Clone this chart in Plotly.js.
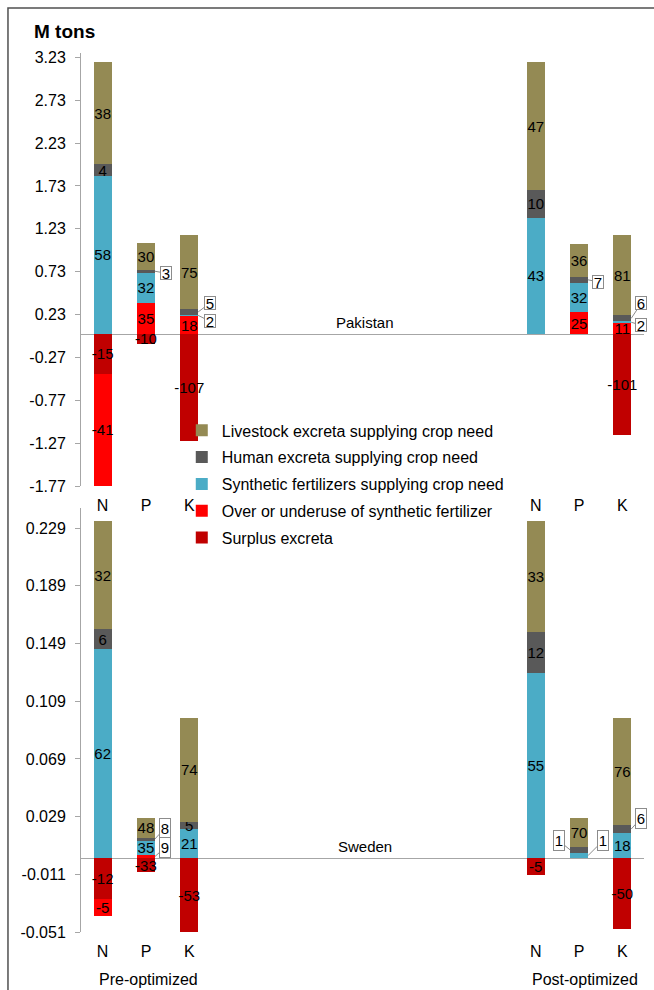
<!DOCTYPE html>
<html>
<head>
<meta charset="utf-8">
<script src="https://cdn.plot.ly/plotly-3.0.1.min.js"></script>
<style>html,body{margin:0;padding:0;background:#fff;}#chart{width:654px;height:990px;}</style>
</head>
<body>
<div id="chart"></div>
<script>
// ---------------- DATA ----------------
const groups = ["Pre-optimized", "Post-optimized"];
const nutrients = ["N", "P", "K"];
const seriesNames = [
  "Surplus excreta",
  "Over or underuse of synthetic fertilizer",
  "Synthetic fertilizers supplying crop need",
  "Human excreta supplying crop need",
  "Livestock excreta supplying crop need"
];
// values in M tons, order: Pre N, Pre P, Pre K, Post N, Post P, Post K
const pakSurplus   = [-0.46, -0.11, -1.24, null, null, -1.17];
const pakOver      = [-1.31, 0.37, 0.21, null, 0.26, 0.13];
const pakSynth     = [1.85, 0.35, 0.02, 1.36, 0.34, 0.02];
const pakHuman     = [0.13, 0.03, 0.06, 0.32, 0.07, 0.07];
const pakLivestock = [1.19, 0.31, 0.87, 1.49, 0.38, 0.94];
const pakSurplusLbl   = ["-15", "-10", "-107", "", "", "-101"];
const pakOverLbl      = ["-41", "35", "18", "", "25", "11"];
const pakSynthLbl     = ["58", "32", "2", "43", "32", "2"];
const pakHumanLbl     = ["4", "3", "5", "10", "7", "6"];
const pakLivestockLbl = ["38", "30", "75", "47", "36", "81"];

const sweSurplus   = [-0.028, -0.0093, -0.051, -0.0117, null, -0.0487];
const sweOver      = [-0.0117, 0.0025, null, null, null, null];
const sweSynth     = [0.145, 0.0098, 0.0205, 0.1287, 0.0038, 0.0175];
const sweHuman     = [0.014, 0.0022, 0.0049, 0.0281, 0.0042, 0.0058];
const sweLivestock = [0.0749, 0.0135, 0.0721, 0.0772, 0.0198, 0.074];
const sweSurplusLbl   = ["-12", "-33", "-53", "-5", "", "-50"];
const sweOverLbl      = ["-5", "9", "", "", "", ""];
const sweSynthLbl     = ["62", "35", "21", "55", "1", "18"];
const sweHumanLbl     = ["6", "8", "5", "12", "1", "6"];
const sweLivestockLbl = ["32", "48", "74", "33", "70", "76"];

const pakTickVals = [-1.77, -1.27, -0.77, -0.27, 0.23, 0.73, 1.23, 1.73, 2.23, 2.73, 3.23];
const sweTickVals = [-0.051, -0.011, 0.029, 0.069, 0.109, 0.149, 0.189, 0.229];
const countries = ["Pakistan", "Sweden"];

// ---------------- STYLE ----------------
const colors = ["#c00000", "#ff0000", "#4bacc6", "#595959", "#948a54"];
const FONT = 'Arial, "Liberation Sans", sans-serif';
const GROUP_GAP = 10;
const BAR_W = 0.41;
const xPos = [];
groups.forEach((g, gi) => nutrients.forEach((n, ni) => xPos.push(gi * GROUP_GAP + ni)));
const tickText = groups.flatMap(() => nutrients);

const panels = [
  { vals: [pakSurplus, pakOver, pakSynth, pakHuman, pakLivestock],
    lbls: [pakSurplusLbl, pakOverLbl, pakSynthLbl, pakHumanLbl, pakLivestockLbl],
    xa: "x", ya: "y", boxH: 12 },
  { vals: [sweSurplus, sweOver, sweSynth, sweHuman, sweLivestock],
    lbls: [sweSurplusLbl, sweOverLbl, sweSynthLbl, sweHumanLbl, sweLivestockLbl],
    xa: "x2", ya: "y2", boxH: 19 }
];

// callouts: panel, series index, category index, side (+1 right / -1 left), pixel offsets
const callouts = [
  { p: 0, s: 3, i: 1, side: 1, ax: 11, ay: 2 },
  { p: 0, s: 3, i: 2, side: 1, ax: 12, ay: -9 },
  { p: 0, s: 2, i: 2, side: 1, ax: 12, ay: 6 },
  { p: 0, s: 3, i: 4, side: 1, ax: 10, ay: 2 },
  { p: 0, s: 3, i: 5, side: 1, ax: 10, ay: -15 },
  { p: 0, s: 2, i: 5, side: 1, ax: 10, ay: 3 },
  { p: 1, s: 3, i: 1, side: 1, ax: 10, ay: -11 },
  { p: 1, s: 1, i: 1, side: 1, ax: 10, ay: -9 },
  { p: 1, s: 3, i: 4, side: -1, ax: -11, ay: -9 },
  { p: 1, s: 2, i: 4, side: 1, ax: 15, ay: -15 },
  { p: 1, s: 3, i: 5, side: 1, ax: 10, ay: -11 }
];
const isCallout = (p, s, i) => callouts.some(c => c.p === p && c.s === s && c.i === i);

const traces = [];
panels.forEach((pn, p) => {
  pn.vals.forEach((v, s) => {
    traces.push({
      type: "bar",
      name: seriesNames[s],
      legendgroup: "g" + s,
      legendrank: 1000 - s,
      showlegend: p === 0,
      x: xPos,
      y: v,
      xaxis: pn.xa,
      yaxis: pn.ya,
      width: BAR_W,
      marker: { color: colors[s], line: { width: 0 } },
      text: pn.lbls[s].map((t, i) => isCallout(p, s, i) ? "" : t),
      textposition: "inside",
      insidetextanchor: "middle",
      textangle: 0,
      insidetextfont: { family: FONT, size: 15, color: "#000" },
      hoverinfo: "skip",
      cliponaxis: false
    });
  });
});

// stacked centre of a positive segment
function segCenter(vals, s, i) {
  let base = 0;
  for (let k = 0; k < s; k++) { const vv = vals[k][i]; if (vv != null && vv > 0) base += vv; }
  return base + vals[s][i] / 2;
}

const annotations = [];
callouts.forEach(c => {
  const pn = panels[c.p];
  annotations.push({
    xref: pn.xa, yref: pn.ya,
    x: xPos[c.i] + c.side * BAR_W / 2,
    y: segCenter(pn.vals, c.s, c.i),
    text: pn.lbls[c.s][c.i],
    showarrow: true, arrowhead: 0, arrowwidth: 1, arrowcolor: "#8c8c8c",
    ax: c.ax, ay: c.ay,
    bgcolor: "#ffffff", bordercolor: "#8c8c8c", borderwidth: 1, borderpad: 0,
    width: 10, height: pn.boxH,
    font: { family: FONT, size: 15, color: "#000" }
  });
});
// country labels
panels.forEach((pn, p) => {
  annotations.push({
    xref: pn.xa, yref: pn.ya, x: 6.05, y: 0, yanchor: "bottom", yshift: 1,
    text: countries[p], showarrow: false,
    font: { family: FONT, size: 15, color: "#000" }
  });
});
// group titles
annotations.push({ xref: "x2", yref: "paper", x: 1.05, y: -0.0546, yanchor: "middle",
  text: groups[0], showarrow: false, font: { family: FONT, size: 16, color: "#000" } });
annotations.push({ xref: "x2", yref: "paper", x: 11.13, y: -0.0546, yanchor: "middle",
  text: groups[1], showarrow: false, font: { family: FONT, size: 16, color: "#000" } });
// unit title
annotations.push({ xref: "paper", yref: "paper", x: -0.0871, y: 1.0239, xanchor: "left", yanchor: "middle",
  text: "<b>M tons</b>", showarrow: false, font: { family: FONT, size: 19, color: "#000" } });

const xCommon = {
  range: [-0.5, 12.5], tickvals: xPos, ticktext: tickText, showgrid: false, zeroline: false,
  showline: false, ticks: "", tickfont: { family: FONT, size: 16, color: "#000" }, ticklabelstandoff: 8
};
const yCommon = {
  showgrid: false, zeroline: true, zerolinecolor: "#a6a6a6", zerolinewidth: 1,
  showline: true, linecolor: "#a6a6a6", linewidth: 1, ticks: "outside", ticklen: 5, tickcolor: "#a6a6a6",
  tickfont: { family: FONT, size: 16, color: "#000" }, ticklabelstandoff: 6
};

const layout = {
  width: 654, height: 990,
  margin: { l: 81, r: 10, t: 53, b: 58 },
  paper_bgcolor: "#fff", plot_bgcolor: "#fff",
  barmode: "relative",
  bargap: 0,
  font: { family: FONT, size: 15, color: "#000" },
  uniformtext: { mode: "show", minsize: 15 },
  xaxis: Object.assign({}, xCommon, { anchor: "y" }),
  xaxis2: Object.assign({}, xCommon, { anchor: "y2" }),
  yaxis: Object.assign({}, yCommon, { domain: [0.5074, 1], anchor: "x", range: [-1.77, 3.28],
    tickvals: pakTickVals, ticktext: pakTickVals.map(v => v.toFixed(2)) }),
  yaxis2: Object.assign({}, yCommon, { domain: [0, 0.4824], anchor: "x2", range: [-0.051, 0.243],
    tickvals: sweTickVals, ticktext: sweTickVals.map(v => v.toFixed(3)) }),
  showlegend: true,
  legend: {
    x: 0.179, y: 0.590, xanchor: "left", yanchor: "top",
    traceorder: "grouped", tracegroupgap: 3,
    bgcolor: "rgba(0,0,0,0)", borderwidth: 0,
    font: { family: FONT, size: 16, color: "#000" },
    itemwidth: 30
  },
  annotations: annotations,
  shapes: [{
    type: "rect", xref: "paper", yref: "paper",
    x0: -0.1297, x1: 1.2, y0: -0.2, y1: 1.0512,
    line: { color: "#505050", width: 1.5 }, fillcolor: "rgba(0,0,0,0)", layer: "above"
  }],
  hovermode: false
};

Plotly.newPlot("chart", traces, layout, { displayModeBar: false, staticPlot: true });
</script>
</body>
</html>
